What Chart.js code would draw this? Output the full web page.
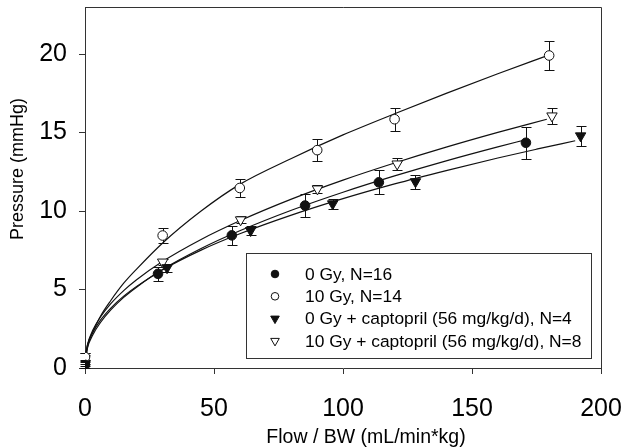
<!DOCTYPE html>
<html><head><meta charset="utf-8">
<script src="https://cdn.jsdelivr.net/npm/chart.js@4"></script>
<style>html,body{margin:0;padding:0;background:#fff;}canvas{display:block;}</style>
</head><body>
<canvas id="c" width="629" height="448"></canvas>
<script>
// ---- measured points (mean, SEM) ----
const flow0Gy = [0, 28.3, 56.9, 85.3, 113.9, 170.9];
const pres0Gy = [0.2, 6.0, 8.45, 10.35, 11.83, 14.35];
const err0Gy  = [0.2, 0.45, 0.6, 0.76, 0.77, 1.03];

const flow10Gy = [0, 30.1, 60.0, 90.0, 120.0, 179.9];
const pres10Gy = [0.7, 8.44, 11.47, 13.88, 15.85, 19.91];
const err10Gy  = [0.25, 0.5, 0.56, 0.68, 0.74, 0.93];

const flow0GyCap = [0, 31.8, 64.2, 96.0, 128.1, 192.1];
const pres0GyCap = [0.3, 6.39, 8.76, 10.46, 11.87, 14.79];
const err0GyCap  = [0.2, 0.25, 0.3, 0.3, 0.44, 0.62];

const flow10GyCap = [0, 30.1, 60.3, 90.1, 121.0, 181.0];
const pres10GyCap = [0.6, 6.75, 9.44, 11.41, 13.0, 16.06];
const err10GyCap  = [0.35, 0.2, 0.22, 0.25, 0.38, 0.52];

// ---- fitted curves ----
const fit0GyX = [0, 1, 3, 6, 10, 15, 20, 30, 45, 60, 80, 100, 120, 140, 160, 171];
const fit0GyY = [0.3, 1.3, 2.1, 2.9, 3.7, 4.5, 5.15, 6.27, 7.61, 8.74, 10.05, 11.2, 12.24, 13.2, 14.09, 14.55];

const fit10GyX = [0, 1, 3, 6, 10, 15, 20, 30, 45, 60, 80, 100, 120, 140, 160, 180];
const fit10GyY = [0.6, 1.5, 2.3, 3.3, 4.3, 5.4, 6.3, 7.95, 10.0, 11.7, 13.35, 14.85, 16.2, 17.5, 18.75, 19.95];

const fit0GyCapX = [0, 1, 3, 6, 10, 15, 20, 30, 45, 60, 80, 100, 120, 140, 160, 175, 190];
const fit0GyCapY = [0.3, 1.4, 2.25, 3.05, 3.82, 4.58, 5.2, 6.25, 7.51, 8.55, 9.74, 10.79, 11.73, 12.58, 13.38, 13.94, 14.48];

const fit10GyCapX = [0, 1, 3, 6, 10, 15, 20, 30, 45, 60, 80, 100, 120, 140, 160, 179];
const fit10GyCapY = [0.5, 1.5, 2.4, 3.25, 4.1, 4.93, 5.62, 6.78, 8.19, 9.38, 10.76, 11.97, 13.06, 14.07, 15.01, 15.85];

const seriesLabels = ['0 Gy, N=16', '10 Gy, N=14', '0 Gy + captopril (56 mg/kg/d), N=4', '10 Gy + captopril (56 mg/kg/d), N=8'];
const xTitle = 'Flow / BW (mL/min*kg)';
const yTitle = 'Pressure (mmHg)';
const xTicks = [0, 50, 100, 150, 200];
const yTicks = [0, 5, 10, 15, 20];

const FONT = '"Liberation Sans", Arial, Helvetica, sans-serif';
const INK = '#111';

const series = [
  {label: seriesLabels[0], flow: flow0Gy, pres: pres0Gy, err: err0Gy, fx: fit0GyX, fy: fit0GyY, style: 'circle', fill: INK},
  {label: seriesLabels[1], flow: flow10Gy, pres: pres10Gy, err: err10Gy, fx: fit10GyX, fy: fit10GyY, style: 'circle', fill: '#fff'},
  {label: seriesLabels[2], flow: flow0GyCap, pres: pres0GyCap, err: err0GyCap, fx: fit0GyCapX, fy: fit0GyCapY, style: 'triangle', fill: INK},
  {label: seriesLabels[3], flow: flow10GyCap, pres: pres10GyCap, err: err10GyCap, fx: fit10GyCapX, fy: fit10GyCapY, style: 'triangle', fill: '#fff'}
];

const datasets = [];
series.forEach(s => {
  datasets.push({
    type: 'line', data: s.fx.map((v, i) => ({x: v, y: s.fy[i]})),
    borderColor: INK, borderWidth: 1.2, pointRadius: 0, fill: false,
    cubicInterpolationMode: 'monotone', order: 3
  });
});
series.forEach(s => {
  datasets.push({
    type: 'scatter', data: s.flow.map((v, i) => ({x: v, y: s.pres[i]})),
    pointStyle: s.style, rotation: s.style === 'triangle' ? 180 : 0,
    pointRadius: s.style === 'triangle' ? 6 : 4.8,
    backgroundColor: s.fill, borderColor: INK, borderWidth: 1, order: 1
  });
});

const errorBars = {
  id: 'errorBars',
  beforeDatasetsDraw(chart) {
    const {ctx, scales: {x, y}} = chart;
    ctx.save();
    ctx.strokeStyle = INK; ctx.lineWidth = 1;
    series.forEach(s => {
      s.flow.forEach((fv, i) => {
        const px = Math.round(x.getPixelForValue(fv)) + 0.5;
        const t = Math.round(y.getPixelForValue(s.pres[i] + s.err[i])) + 0.5;
        const b = Math.round(y.getPixelForValue(s.pres[i] - s.err[i])) + 0.5;
        ctx.beginPath();
        ctx.moveTo(px, t); ctx.lineTo(px, b);
        ctx.moveTo(px - 5, t); ctx.lineTo(px + 5, t);
        ctx.moveTo(px - 5, b); ctx.lineTo(px + 5, b);
        ctx.stroke();
      });
    });
    ctx.restore();
  }
};

const decor = {
  id: 'decor',
  afterDraw(chart) {
    const {ctx, chartArea: a} = chart;
    ctx.save();
    ctx.strokeStyle = '#333'; ctx.lineWidth = 1;
    ctx.beginPath();
    ctx.moveTo(a.left, Math.round(a.top) + 0.5); ctx.lineTo(Math.round(a.right) + 0.5, Math.round(a.top) + 0.5); ctx.lineTo(Math.round(a.right) + 0.5, a.bottom);
    ctx.stroke();
    ctx.fillStyle = '#000';
    ctx.font = '19.5px ' + FONT;
    ctx.textAlign = 'center'; ctx.textBaseline = 'middle';
    ctx.fillText(xTitle, 366, 438);
    ctx.save();
    ctx.translate(18, 169); ctx.rotate(-Math.PI / 2);
    ctx.font = '18px ' + FONT;
    ctx.fillText(yTitle, 0, 0);
    ctx.restore();
    const L = 246.5, T = 253.5, R = 591.5, B = 358.5;
    ctx.fillStyle = '#fff'; ctx.fillRect(L, T, R - L, B - T);
    ctx.strokeStyle = '#333'; ctx.strokeRect(L, T, R - L, B - T);
    ctx.font = '17.4px ' + FONT; ctx.textAlign = 'left'; ctx.textBaseline = 'middle';
    series.forEach((s, i) => {
      const cy = 274 + i * 22.3, cx = 275;
      ctx.fillStyle = s.fill; ctx.strokeStyle = INK; ctx.lineWidth = 1;
      ctx.beginPath();
      if (s.style === 'circle') {
        ctx.arc(cx, cy, 3.8, 0, Math.PI * 2);
      } else {
        ctx.moveTo(cx - 4.3, cy - 2.5); ctx.lineTo(cx + 4.3, cy - 2.5); ctx.lineTo(cx, cy + 5); ctx.closePath();
      }
      ctx.fill(); ctx.stroke();
      ctx.fillStyle = '#000';
      ctx.fillText(s.label, 305, cy + 1);
    });
    ctx.restore();
  }
};

function noPad(s) { s.paddingTop = 0; s.paddingBottom = 0; s.paddingLeft = 0; s.paddingRight = 0; }

new Chart(document.getElementById('c'), {
  data: {datasets},
  plugins: [errorBars, decor],
  options: {
    responsive: false, animation: false, devicePixelRatio: 1,
    layout: {padding: {top: 7, right: 28, left: 0, bottom: 0}},
    plugins: {legend: {display: false}, tooltip: {enabled: false}, title: {display: false}},
    scales: {
      x: {
        type: 'linear', min: 0, max: 200,
        afterFit(s) { s.height = 80; noPad(s); },
        afterBuildTicks(s) { s.ticks = xTicks.map(v => ({value: v})); },
        ticks: {font: {family: FONT, size: 25}, color: '#000', padding: 20, maxRotation: 0},
        grid: {drawOnChartArea: false, drawTicks: true, tickLength: 6, color: '#333'},
        border: {display: true, color: '#333'}
      },
      y: {
        type: 'linear', min: 0, max: 23,
        afterFit(s) { s.width = 85; noPad(s); },
        afterBuildTicks(s) { s.ticks = yTicks.map(v => ({value: v})); },
        ticks: {font: {family: FONT, size: 25}, color: '#000', padding: 12},
        grid: {drawOnChartArea: false, drawTicks: true, tickLength: 6, color: '#333'},
        border: {display: true, color: '#333'}
      }
    }
  }
});
</script>
</body></html>
